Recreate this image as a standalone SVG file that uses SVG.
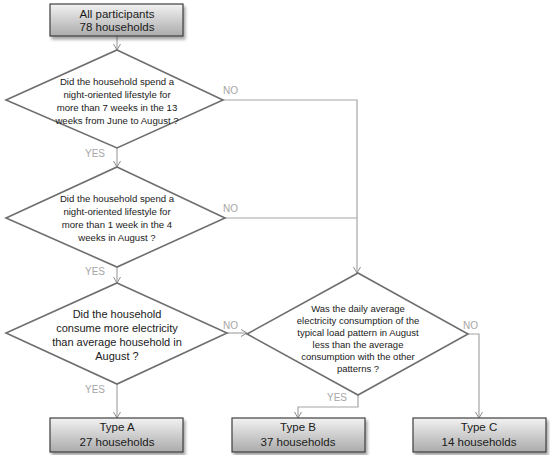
<svg xmlns="http://www.w3.org/2000/svg" width="550" height="455" viewBox="0 0 550 455">
<defs>
<linearGradient id="g" x1="0" y1="0" x2="0" y2="1">
<stop offset="0" stop-color="#f2f2f2"/>
<stop offset="1" stop-color="#ababab"/>
</linearGradient>
<filter id="sh" x="-10%" y="-20%" width="130%" height="160%">
<feDropShadow dx="2" dy="3" stdDeviation="1.5" flood-color="#000" flood-opacity="0.35"/>
</filter>
<marker id="arr" markerWidth="10" markerHeight="10" refX="8" refY="5" orient="auto" markerUnits="userSpaceOnUse">
<polyline points="2,1.5 8,5 2,8.5" fill="none" stroke="#8c8c8c" stroke-width="1"/>
</marker>
</defs>
<style>
.box{fill:url(#g);stroke:#3f3f3f;stroke-width:1.2;filter:url(#sh)}
.dia{fill:#fff;stroke:#6e6e6e;stroke-width:1.6}
.t{font-family:"Liberation Sans",Arial,sans-serif;fill:#1a1a1a;text-anchor:middle}
.bt{font-size:11.5px}
.dt{font-size:9.6px}
.dt3{font-size:11px}
.dt4{font-size:9.5px}
.lbl{font-family:"Liberation Sans",Arial,sans-serif;font-size:10px;fill:#a6a6a6}
.c{fill:none;stroke:#a6a6a6;stroke-width:1.2}
</style>

<g id="connectors">
<path class="c" d="M117,36 V50" marker-end="url(#arr)"/>
<path class="c" d="M117,148 V167" marker-end="url(#arr)"/>
<path class="c" d="M223,100 H357 V273" marker-end="url(#arr)"/>
<path class="c" d="M225,218 H357"/>
<path class="c" d="M117,267 V283" marker-end="url(#arr)"/>
<path class="c" d="M227,333 H247" marker-end="url(#arr)"/>
<path class="c" d="M117,384 V418" marker-end="url(#arr)"/>
<path class="c" d="M358,395 V407 H298 V418" marker-end="url(#arr)"/>
<path class="c" d="M468,334 H479 V418" marker-end="url(#arr)"/>
<text class="lbl" x="223" y="94">NO</text>
<text class="lbl" x="223" y="212">NO</text>
<text class="lbl" x="223" y="329">NO</text>
<text class="lbl" x="463" y="329">NO</text>
<text class="lbl" x="85" y="157">YES</text>
<text class="lbl" x="85" y="275">YES</text>
<text class="lbl" x="85" y="393">YES</text>
<text class="lbl" x="327" y="401">YES</text>
</g>

<g id="start">
<rect class="box" x="50" y="4" width="133" height="32"/>
<text class="t bt" x="117" y="18">All participants</text>
<text class="t bt" x="117" y="31">78 households</text>
</g>

<g id="q1">
<polygon class="dia" points="117,50 223,100 117,148 6,100"/>
<text class="t dt" x="117" y="85">Did the household spend a</text>
<text class="t dt" x="117" y="98">night-oriented lifestyle for</text>
<text class="t dt" x="117" y="111">more than 7 weeks in the 13</text>
<text class="t dt" x="117" y="124">weeks from June to August ?</text>
</g>

<g id="q2">
<polygon class="dia" points="117,167 225,218 117,267 6,218"/>
<text class="t dt" x="117" y="202">Did the household spend a</text>
<text class="t dt" x="117" y="215">night-oriented lifestyle for</text>
<text class="t dt" x="117" y="228">more than 1 week in the 4</text>
<text class="t dt" x="117" y="241">weeks in August ?</text>
</g>

<g id="q3">
<polygon class="dia" points="117,283 227,333 117,384 6,333"/>
<text class="t dt3" x="117" y="318">Did the household</text>
<text class="t dt3" x="117" y="332">consume more electricity</text>
<text class="t dt3" x="117" y="346">than average household in</text>
<text class="t dt3" x="117" y="360">August ?</text>
</g>

<g id="q4">
<polygon class="dia" points="358,273 468,334 358,395 247,334"/>
<text class="t dt4" x="358" y="312">Was the daily average</text>
<text class="t dt4" x="358" y="324">electricity consumption of the</text>
<text class="t dt4" x="358" y="336">typical load pattern in August</text>
<text class="t dt4" x="358" y="348">less than the average</text>
<text class="t dt4" x="358" y="360">consumption with the other</text>
<text class="t dt4" x="358" y="372">patterns ?</text>
</g>

<g id="typeA">
<rect class="box" x="50" y="418" width="133" height="34"/>
<text class="t bt" x="117" y="431">Type A</text>
<text class="t bt" x="117" y="446">27 households</text>
</g>

<g id="typeB">
<rect class="box" x="232" y="418" width="133" height="34"/>
<text class="t bt" x="298" y="431">Type B</text>
<text class="t bt" x="298" y="446">37 households</text>
</g>

<g id="typeC">
<rect class="box" x="413" y="418" width="133" height="34"/>
<text class="t bt" x="479" y="431">Type C</text>
<text class="t bt" x="479" y="446">14 households</text>
</g>
</svg>
